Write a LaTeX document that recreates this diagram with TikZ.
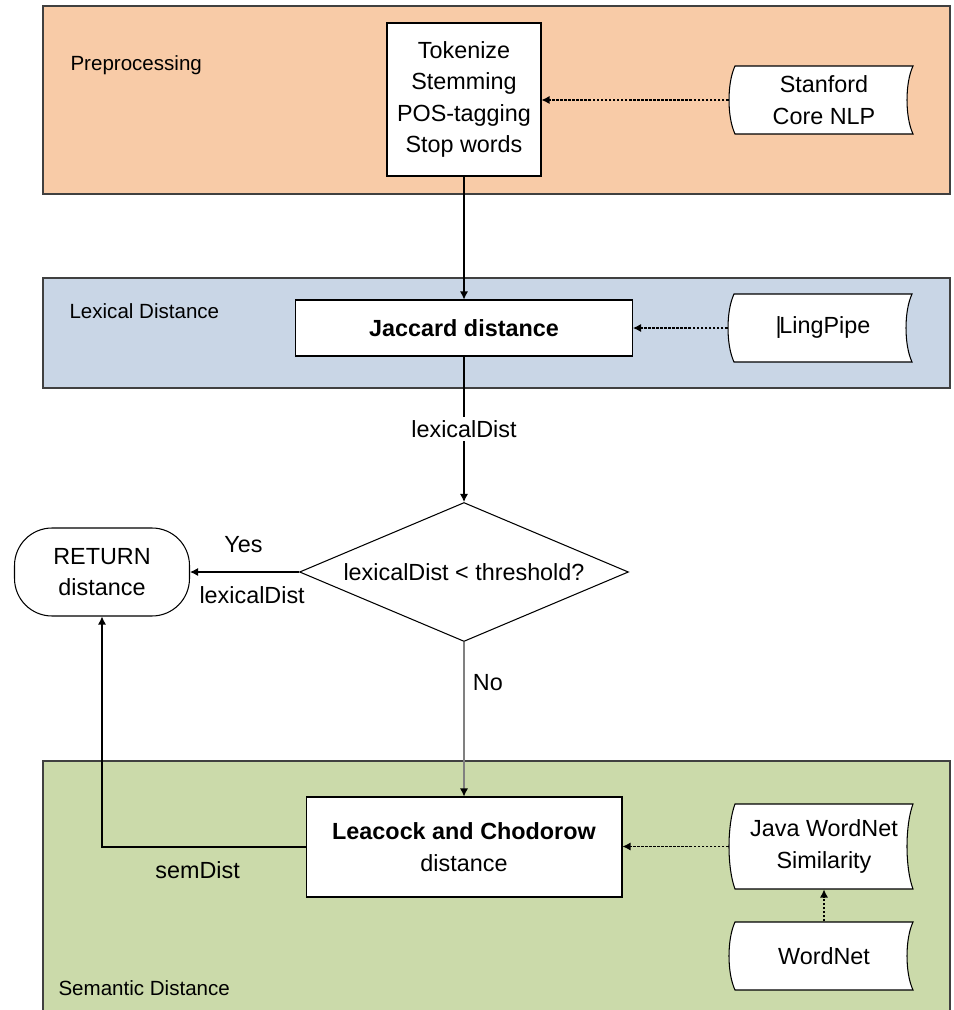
\documentclass[tikz,border=0pt]{standalone}
\usepackage{fontspec}
\setmainfont{Liberation Sans}
\usetikzlibrary{shapes.geometric,arrows.meta}

\definecolor{prepcol}{HTML}{F8CBA7}
\definecolor{lexcol}{HTML}{C9D6E6}
\definecolor{semcol}{HTML}{CBDAAA}

\newcommand{\storedata}[4]{%
	\begin{scope}[shift={(#2)}]
		\draw[fill=white] (-89,-#3) -- (89,-#3) .. controls (81,-#3/2) and (81,#3/2) .. (89,#3)
			-- (-89,#3) .. controls (-97,#3/2) and (-97,-#3/2) .. (-89,-#3) -- cycle;
	\end{scope}
	\node[storetext, minimum height=#3*0.04cm] (#1) at (#2) {#4};}

\begin{document}
\begin{tikzpicture}[x=0.02cm, y=-0.02cm, line width=0.6pt,
		font=\fontsize{13.3}{18}\selectfont,
		panel/.style={draw=black!75, line width=0.9pt},
		panellabel/.style={anchor=west, inner sep=0pt, font=\fontsize{11.7}{14}\selectfont},
		box/.style={draw, fill=white, align=center, inner sep=2pt},
		storetext/.style={align=center, minimum width=3.8cm, inner sep=0pt},
		decision/.style={diamond, draw, fill=white, inner sep=0pt, aspect=2.37,
			minimum width=6.58cm, minimum height=2.78cm},
		terminal/.style={draw, fill=white, rounded corners=0.75cm, align=center,
			minimum width=3.5cm, minimum height=1.76cm},
		arr/.style={-{Latex[length=1.6mm,width=1.6mm]}},
		dotarr/.style={arr, dash pattern=on 1.5pt off 0.8pt},
		lbl/.style={inner sep=2pt}]
	\useasboundingbox (0,0) rectangle (953,1010);

	\draw[panel, fill=prepcol] (43,6) rectangle (950,194);
	\draw[panel, fill=lexcol] (43,278) rectangle (950,388);
	\draw[panel, fill=semcol] (43,761) rectangle (950,1030);

	\node[panellabel] (preplbl) at (70,65) {Preprocessing};
	\node[panellabel] (lexlbl) at (69,311) {Lexical Distance};
	\node[panellabel] (semlbl) at (58,988) {Semantic Distance};

	\node[box, minimum width=3.08cm, minimum height=3.06cm] (tokenize) at (464,99.5)
		{Tokenize\\Stemming\\POS-tagging\\Stop words};
	\node[box, minimum width=6.74cm, minimum height=1.12cm] (jaccard) at (464,328)
		{\bfseries Jaccard distance};
	\node[decision] (test) at (464,572) {lexicalDist < threshold?};
	\node[terminal] (return) at (102,572) {RETURN\\distance};
	\node[box, minimum width=6.32cm, minimum height=2cm] (leacock) at (464,847)
		{{\bfseries Leacock and Chodorow}\\distance};

	\storedata{stanford}{824,100}{34}{Stanford\\Core NLP}
	\storedata{lingpipe}{823,328}{34}{\textbar\kern-0.1em LingPipe}
	\storedata{javasim}{824,846.5}{42.5}{Java WordNet\\Similarity}
	\storedata{wordnet}{824,956}{34}{WordNet}

	\draw[arr] (tokenize) -- (jaccard);
	\draw[dotarr] (stanford.west) -- (stanford.west -| tokenize.east);
	\draw[dotarr] (lingpipe.west) -- (lingpipe.west -| jaccard.east);
	\draw[arr] (jaccard) -- node[lbl, fill=white] (lexdist) {lexicalDist} (test);
	\draw[arr] (test) -- node[pos=0.51, above=0.25cm] (yes) {Yes}
		node[pos=0.43, below=0.17cm] (yesdist) {lexicalDist} (return);
	\draw[-{Latex[length=1.6mm,width=1.6mm,color=black]}, draw=gray] (test)
		-- node[pos=0.26, right=0.05cm] (no) {No} (leacock);
	\draw[arr] (leacock.west) -- node[pos=0.53, below=0.16cm] (semdist) {semDist}
		(leacock.west -| return.south) -- (return.south);
	\draw[dotarr] (javasim.west) -- (javasim.west -| leacock.east);
	\draw[dotarr] (wordnet.north) -- (javasim.south);
\end{tikzpicture}
\end{document}
